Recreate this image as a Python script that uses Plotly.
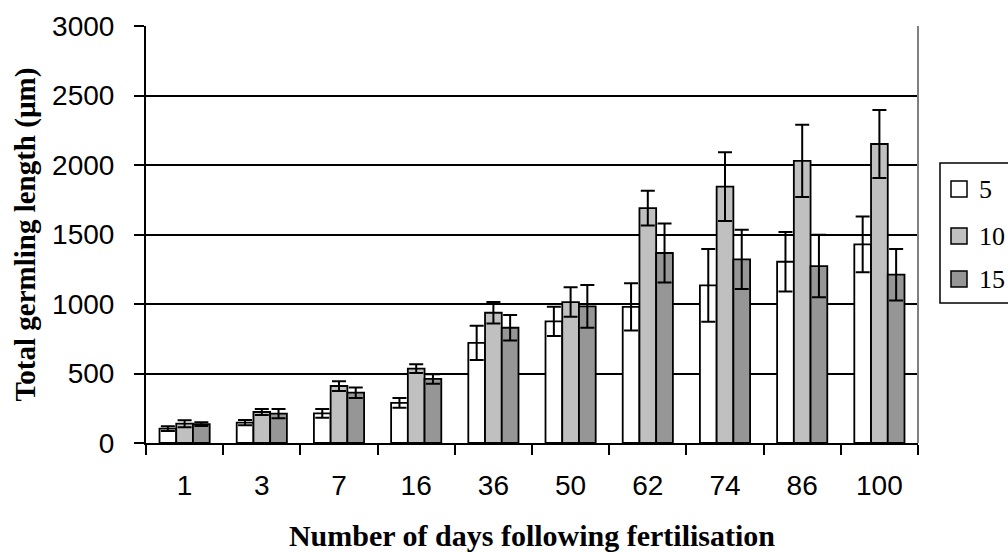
import plotly.graph_objects as go

days = ["1", "3", "7", "16", "36", "50", "62", "74", "86", "100"]
series_names = ["5", "10", "15"]
s5 = [103, 146, 213, 288, 720, 875, 980, 1134, 1304, 1429]
e5 = [17, 19, 31, 35, 123, 105, 170, 262, 214, 200]
s10 = [139, 223, 410, 535, 937, 1014, 1690, 1844, 2029, 2151]
e10 = [25, 21, 35, 31, 77, 106, 125, 247, 260, 244]
s15 = [136, 211, 362, 461, 829, 983, 1367, 1321, 1273, 1211]
e15 = [14, 33, 38, 34, 92, 153, 213, 213, 225, 185]
colors = ["#FFFFFF", "#C0C0C0", "#969696"]

values = [s5, s10, s15]
errors = [e5, e10, e15]

fig = go.Figure()
for name, v, e, c in zip(series_names, values, errors, colors):
    fig.add_trace(go.Bar(
        x=days, y=v, name=name,
        marker=dict(color=c, line=dict(color="black", width=1.8)),
        error_y=dict(type="data", array=e, symmetric=True, color="black", thickness=2, width=7),
        showlegend=False,
    ))

W, H = 1008, 552
L, R, T, B = 146, 90, 26, 109
pw, ph = W - L - R, H - T - B

def px(x):
    return (x - L) / pw

def py(y):
    return (H - B - y) / ph

shapes = [
    # right border of plot area
    dict(type="line", xref="paper", yref="paper", x0=1, x1=1, y0=0, y1=1,
         line=dict(color="#808080", width=2)),
    # legend box
    dict(type="rect", xref="paper", yref="paper", x0=px(940), x1=px(1020), y0=py(303), y1=py(163),
         line=dict(color="black", width=1.5), fillcolor="white"),
]
annotations = []
leg_y = [189, 236, 279]
for name, c, yy in zip(series_names, colors, leg_y):
    shapes.append(dict(type="rect", xref="paper", yref="paper",
                       x0=px(951), x1=px(967), y0=py(yy + 8), y1=py(yy - 8),
                       line=dict(color="black", width=1.5), fillcolor=c))
    annotations.append(dict(text=name, xref="paper", yref="paper", x=px(977), y=py(yy),
                            xanchor="left", yanchor="middle", showarrow=False,
                            font=dict(family="Liberation Serif, Times New Roman, serif", size=26, color="black")))

fig.update_layout(
    width=W, height=H,
    margin=dict(l=L, r=R, t=T, b=B),
    paper_bgcolor="white", plot_bgcolor="white",
    barmode="group", bargap=0.35, bargroupgap=0,
    shapes=shapes, annotations=annotations,
    font=dict(family="Liberation Sans, Arial, sans-serif", color="black"),
)
fig.update_xaxes(
    type="category", showline=True, linecolor="black", linewidth=2, automargin=False,
    ticks="outside", tickson="boundaries", ticklen=10, tickwidth=2, tickcolor="black",
    tickfont=dict(size=28), ticklabelstandoff=16,
    title=dict(text="<b>Number of days following fertilisation</b>",
               font=dict(family="Liberation Serif, Times New Roman, serif", size=30), standoff=26),
    showgrid=False,
)
fig.update_yaxes(
    range=[0, 3000], tickvals=[0, 500, 1000, 1500, 2000, 2500, 3000],
    showline=True, linecolor="black", linewidth=2, automargin=False,
    ticks="outside", ticklen=10, tickwidth=2, tickcolor="black",
    tickfont=dict(size=28), ticklabelstandoff=14,
    showgrid=True, gridcolor="black", gridwidth=1.6,
    zeroline=False,
    title=dict(text="<b>Total germling length (µm)</b>",
               font=dict(family="Liberation Serif, Times New Roman, serif", size=29), standoff=8),
)

fig.write_html("out.html")
